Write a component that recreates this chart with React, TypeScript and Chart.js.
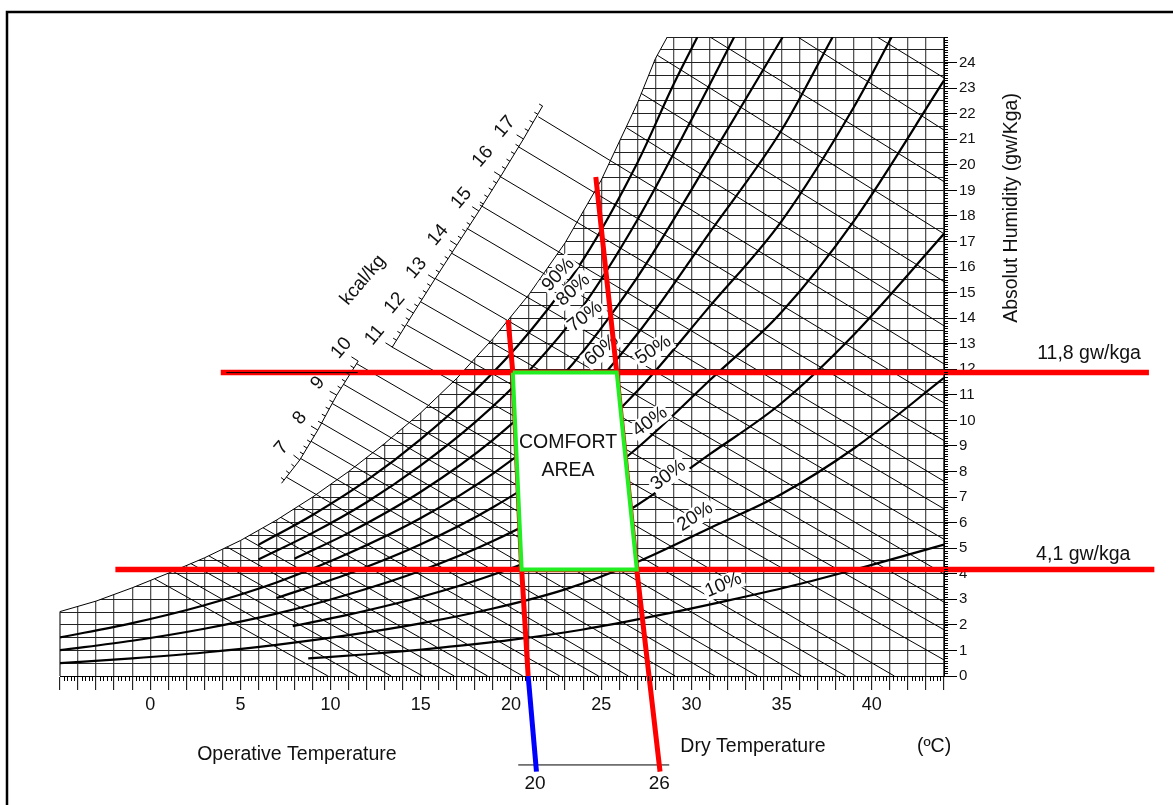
import React, { useEffect, useRef } from 'react';
import { Chart, registerables } from 'chart.js';

Chart.register(...registerables);

const FONT = "'Liberation Sans', Arial, Helvetica, sans-serif";

// ---------------- data ----------------
const xTickLabels = [0, 5, 10, 15, 20, 25, 30, 35, 40];
const yTickLabels = [0, 1, 2, 3, 4, 5, 6, 7, 8, 9, 10, 11, 12, 13, 14, 15, 16, 17, 18, 19, 20, 21, 22, 23, 24];

// saturation curve (100 %)
const satT = [-5, -3, -1, 1, 3, 5, 7, 9, 11, 13, 15, 17, 19, 21, 23, 25, 27, 28, 28.7, 29.5];
const satW = [2.52, 2.93, 3.45, 4.02, 4.62, 5.3, 6.1, 7.0, 8.0, 9.1, 10.3, 11.65, 13.2, 14.93, 16.95, 19.4, 22.4, 24.15, 25.05, 26.4];

// relative humidity curves
const rhLevels = ['10%', '20%', '30%', '40%', '50%', '60%', '70%', '80%', '90%'];
const rhT = [
  [8.76, 12, 16, 20, 24, 28, 32, 36, 40, 44],
  [-5, -1, 3, 7, 11, 15, 19, 23, 27, 31, 35, 39, 44],
  [7.9, 11, 15, 19, 23, 27, 31, 35, 39, 44],
  [-5, -1, 3, 7, 11, 15, 19, 23, 27, 31, 35, 39, 44],
  [7, 11, 15, 19, 23, 27, 31, 35, 39, 41.1],
  [-5, -1, 3, 7, 11, 15, 19, 23, 27, 31, 35, 37.83],
  [8, 11, 15, 19, 23, 27, 31, 35.06],
  [6, 9, 12, 15, 18, 21, 24, 27, 30, 32.37],
  [6, 9, 12, 15, 18, 21, 24, 27, 29, 30.33],
];
const rhW = [
  [0.69, 0.85, 1.1, 1.41, 1.82, 2.35, 2.95, 3.6, 4.35, 5.14],
  [0.5, 0.69, 0.92, 1.22, 1.6, 2.06, 2.64, 3.39, 4.46, 5.78, 7.12, 8.9, 11.66],
  [1.95, 2.4, 3.09, 3.96, 5.09, 6.69, 8.67, 10.68, 13.35, 17.3],
  [1.01, 1.38, 1.85, 2.44, 3.2, 4.12, 5.28, 6.78, 8.92, 11.56, 14.24, 17.8, 23.3],
  [3.05, 4.0, 5.15, 6.6, 8.48, 11.15, 14.45, 17.8, 22.25, 25],
  [1.51, 2.07, 2.77, 3.66, 4.8, 6.18, 7.92, 10.17, 13.38, 17.34, 21.36, 25],
  [4.59, 5.6, 7.21, 9.24, 11.87, 15.6, 20.2, 25],
  [4.56, 5.6, 6.8, 8.24, 9.92, 11.94, 14.48, 17.84, 21.76, 25],
  [5.13, 6.3, 7.65, 9.27, 11.16, 13.44, 16.29, 20.07, 23.13, 25],
];

// thin diagonal (wet bulb / enthalpy) lines: start and end points
const wbStartT = [0.25, 1.25, 2.25, 3.25, 4.25, 5.25, 6.25, 7.25, 8.25,
  7.55, 8.34, 8.92, 9.5, 10.09, 10.72, 11.44,
  13.38, 14.21, 14.99, 15.78, 16.71, 17.54, 18.27, 19.35, 20.4, 21.51,
  26.4, 27.2, 28.1, 31.03, 35.9, 40.3];
const wbStartW = [3.8, 4.1, 4.4, 4.7, 5.05, 5.4, 5.8, 6.2, 6.65,
  7.78, 8.51, 9.18, 9.9, 10.66, 11.41, 12.22,
  12.88, 13.73, 14.64, 15.56, 16.54, 17.52, 18.43, 19.56, 20.71, 21.88,
  21.45, 22.8, 24.29, 25, 25, 25];
const wbEndT = [9.85, 11.5, 13.35, 15.1, 16.85, 18.7, 20.65, 22.7, 24.85,
  26.5, 29.1, 31.3, 33.65, 36.1, 38.55, 41.25,
  44, 44, 44, 44, 44, 44, 44, 44, 44, 44,
  44, 44, 44, 44, 44, 44];
const wbEndW = [0, 0, 0, 0, 0, 0, 0, 0, 0,
  0, 0, 0, 0, 0, 0, 0,
  0.63, 1.81, 2.89, 3.99, 5.35, 6.54, 7.62, 9.21, 10.68, 12.21,
  13.7, 15.43, 17.3, 19.34, 21.36, 23.4];

// enthalpy scale (kcal/kg) - two arc pieces
const lowerArcH = [6.3, 7, 8, 9, 10];
const lowerArcT = [7.28, 8.29, 9.29, 10.34, 11.53];
const lowerArcW = [7.54, 8.45, 9.62, 10.99, 12.32];
const upperArcH = [11, 12, 13, 14, 15, 16, 17, 17.8];
const upperArcT = [13.42, 14.59, 15.78, 17.0, 18.22, 19.44, 20.69, 21.75];
const upperArcW = [12.87, 14.2, 15.53, 16.86, 18.19, 19.56, 21.01, 22.3];
const kcalLabels = ['7', '8', '9', '10', '11', '12', '13', '14', '15', '16', '17'];

// comfort area
const comfortT = [20.1, 25.86, 26.97, 20.59];
const comfortW = [11.87, 11.87, 4.17, 4.17];

// absolute humidity limits
const limitW = [11.87, 4.17];
const limitStartT = [3.91, -1.93];
const limitEndT = [55.36, 55.66];
const limitLabels = ['11,8 gw/kga', '4,1 gw/kga'];

// operative temperature lines
const opLeftT = [19.84, 20.1, 20.59, 20.95];
const opLeftW = [13.93, 11.87, 4.17, 0];
const opBlueT = [20.95, 21.41];
const opBlueW = [0, -3.74];
const opRightT = [24.7, 25.86, 26.97, 28.26];
const opRightW = [19.52, 11.87, 4.17, -3.74];
const opScaleT = [20.4, 28.77];
const opScaleW = [-3.48, -3.48];
const opScaleLabels = ['20', '26'];

// ---------------- layout of texts (positions in chart units) ----------------
const rhLabelPos = [
  { x: 31.77, y: 3.56, a: -23 },
  { x: 30.2, y: 6.23, a: -33 },
  { x: 28.72, y: 7.86, a: -37 },
  { x: 27.7, y: 9.95, a: -36 },
  { x: 27.89, y: 12.75, a: -33 },
  { x: 25.02, y: 12.75, a: -40 },
  { x: 24.1, y: 14.06, a: -38 },
  { x: 23.45, y: 15.1, a: -42 },
  { x: 22.62, y: 15.7, a: -47 },
];
const kcalLabelPos = [
  { x: 7.28, y: 8.92 }, { x: 8.29, y: 10.09 }, { x: 9.29, y: 11.46 }, { x: 10.6, y: 12.83 },
  { x: 12.45, y: 13.34 }, { x: 13.56, y: 14.59 }, { x: 14.76, y: 15.96 }, { x: 15.95, y: 17.25 },
  { x: 17.26, y: 18.7 }, { x: 18.44, y: 20.32 }, { x: 19.66, y: 21.49 },
];

const pts = (T: number[], W: number[]) => T.map((t, i) => ({ x: t, y: W[i] }));

function App() {
  const ref = useRef<HTMLCanvasElement | null>(null);

  useEffect(() => {
    if (!ref.current) return;

    const wbPoints: any[] = [];
    wbStartT.forEach((t, i) => {
      wbPoints.push({ x: t, y: wbStartW[i] }, { x: wbEndT[i], y: wbEndW[i] }, { x: wbEndT[i], y: null });
    });

    const line = (data: any[], extra: any = {}) => ({
      type: 'line',
      data,
      borderColor: '#000',
      borderWidth: 1,
      pointRadius: 0,
      fill: false,
      tension: 0,
      spanGaps: false,
      ...extra,
    });

    const datasets: any[] = [];
    // saturation curve with white fill above it (hides grid there)
    datasets.push(line(pts(satT, satW), { fill: 'end', backgroundColor: '#ffffff', order: 100, borderWidth: 1 }));
    // left edge of the grid (below saturation only)
    datasets.push(line([{ x: satT[0], y: 0 }, { x: satT[0], y: satW[0] }], { order: 95, borderColor: '#333', borderWidth: 1.3, clip: false }));
    // wet bulb lines
    datasets.push(line(wbPoints, { order: 90, borderWidth: 1 }));
    // enthalpy arcs
    datasets.push(line(pts(lowerArcT, lowerArcW), { order: 90, borderWidth: 1 }));
    datasets.push(line(pts(upperArcT, upperArcW), { order: 90, borderWidth: 1 }));
    // RH curves
    const rhFirstIndex = datasets.length;
    rhT.forEach((T, i) => {
      datasets.push(line(pts(T, rhW[i]), { order: 80, borderWidth: 2.2, cubicInterpolationMode: 'monotone' }));
    });
    // red horizontal limits
    limitW.forEach((w, i) => {
      datasets.push(line([{ x: limitStartT[i], y: w }, { x: limitEndT[i], y: w }], { order: 50, borderColor: '#ff0000', borderWidth: 5.5, clip: false }));
    });
    datasets.push(line([{ x: 4.22, y: limitW[0] }, { x: 11.5, y: limitW[0] }], { order: 49, borderColor: '#000', borderWidth: 1, clip: false }));
    // operative temperature lines
    datasets.push(line(pts(opLeftT, opLeftW), { order: 50, borderColor: '#ff0000', borderWidth: 5, clip: false }));
    datasets.push(line(pts(opRightT, opRightW), { order: 50, borderColor: '#ff0000', borderWidth: 5, clip: false }));
    datasets.push(line(pts(opBlueT, opBlueW), { order: 50, borderColor: '#0000ff', borderWidth: 5, clip: false }));
    datasets.push(line(pts(opScaleT, opScaleW), { order: 50, borderColor: '#000', borderWidth: 1, clip: false }));
    // comfort area
    const cPts = pts(comfortT, comfortW);
    cPts.push({ ...cPts[0] });
    datasets.push(line(cPts, { order: 40, borderColor: '#22ee22', borderWidth: 4, fill: 'shape', backgroundColor: '#ffffff', clip: false, borderJoinStyle: 'miter' }));

    const drawText = (ctx: CanvasRenderingContext2D, text: string, x: number, y: number, size: number, angle = 0, bg = false, align: CanvasTextAlign = 'center') => {
      ctx.save();
      ctx.translate(x, y);
      ctx.rotate((angle * Math.PI) / 180);
      ctx.font = `${size}px ${FONT}`;
      ctx.textAlign = align;
      ctx.textBaseline = 'middle';
      if (bg) {
        const w = ctx.measureText(text).width;
        ctx.fillStyle = '#ffffff';
        ctx.fillRect(-w / 2 - 2, -size * 0.5, w + 4, size);
      }
      ctx.fillStyle = '#111';
      ctx.fillText(text, 0, 0);
      ctx.restore();
    };

    const arcTicks = (ctx: CanvasRenderingContext2D, X: (v: number) => number, Y: (v: number) => number,
      H: number[], T: number[], W: number[], h0: number, h1: number) => {
      ctx.beginPath();
      for (let i = Math.round(h0 * 5); i <= Math.round(h1 * 5); i++) {
        const h = i / 5;
        let k = 0;
        while (k < H.length - 2 && h > H[k + 1]) k++;
        const f = (h - H[k]) / (H[k + 1] - H[k]);
        const x0 = X(T[k]), y0 = Y(W[k]), x1 = X(T[k + 1]), y1 = Y(W[k + 1]);
        const x = x0 + f * (x1 - x0), y = y0 + f * (y1 - y0);
        const len = Math.hypot(x1 - x0, y1 - y0);
        const tx = (x1 - x0) / len, ty = (y1 - y0) / len;
        const nx = ty, ny = -tx;
        const L = i % 5 === 0 ? 8 : 4;
        ctx.moveTo(x, y);
        ctx.lineTo(x + nx * L, y + ny * L);
      }
      ctx.strokeStyle = '#000';
      ctx.lineWidth = 1;
      ctx.stroke();
    };

    const decor = {
      id: 'decor',
      beforeDraw(chart: any) {
        const ctx = chart.ctx as CanvasRenderingContext2D;
        ctx.save();
        ctx.strokeStyle = '#000';
        ctx.lineWidth = 2.5;
        ctx.beginPath();
        ctx.moveTo(7, 900);
        ctx.lineTo(7, 12);
        ctx.lineTo(1300, 12);
        ctx.stroke();
        ctx.restore();
      },
      afterDatasetDraw(chart: any, args: any) {
        if (args.index !== rhFirstIndex) return;
        const ctx = chart.ctx as CanvasRenderingContext2D;
        const X = (v: number) => chart.scales.x.getPixelForValue(v);
        const Y = (v: number) => chart.scales.y.getPixelForValue(v);
        rhLevels.forEach((t, i) => {
          const p = rhLabelPos[i];
          drawText(ctx, t, X(p.x), Y(p.y), 19, p.a, true);
        });
      },
      afterDatasetsDraw(chart: any) {
        const ctx = chart.ctx as CanvasRenderingContext2D;
        const xs = chart.scales.x, ys = chart.scales.y;
        const X = (v: number) => xs.getPixelForValue(v);
        const Y = (v: number) => ys.getPixelForValue(v);
        const area = chart.chartArea;
        ctx.save();
        // minor ticks, bottom axis (0.2 degC)
        ctx.beginPath();
        for (let i = -25; i <= 220; i++) {
          if (i % 5 === 0) continue;
          const x = Math.round(X(i / 5)) + 0.5;
          ctx.moveTo(x, area.bottom);
          ctx.lineTo(x, area.bottom + 5);
        }
        // minor ticks, right axis (0.1 g/kg)
        for (let i = 0; i <= 250; i++) {
          const y = Math.round(Y(i / 10)) + 0.5;
          ctx.moveTo(area.right, y);
          ctx.lineTo(area.right + 4, y);
        }
        ctx.strokeStyle = '#000';
        ctx.lineWidth = 1;
        ctx.stroke();

        // enthalpy scale ticks and labels
        arcTicks(ctx, X, Y, lowerArcH, lowerArcT, lowerArcW, 6.4, 10);
        arcTicks(ctx, X, Y, upperArcH, upperArcT, upperArcW, 11, 17.8);
        kcalLabels.forEach((t, i) => {
          const p = kcalLabelPos[i];
          drawText(ctx, t, X(p.x), Y(p.y), 19, -50);
        });
        drawText(ctx, 'kcal/kg', X(11.8), Y(15.49), 19, -50);

        // comfort text
        drawText(ctx, 'COMFORT', X(23.16), Y(9.13), 19.5);
        drawText(ctx, 'AREA', X(23.16), Y(8.02), 19.5);

        // limit labels
        drawText(ctx, limitLabels[0], X(52.04), Y(12.63), 19.5);
        drawText(ctx, limitLabels[1], X(51.72), Y(4.73), 19.5);

        // titles
        drawText(ctx, 'Operative Temperature', X(8.13), Y(-3.09), 19.5);
        drawText(ctx, 'Dry Temperature', X(33.41), Y(-2.77), 19.5);
        drawText(ctx, '(ºC)', X(43.45), Y(-2.77), 19.5);
        drawText(ctx, 'Absolut Humidity (gw/Kga)', X(47.73), Y(18.31), 19.5, -90);
        drawText(ctx, opScaleLabels[0], X(21.33), Y(-4.2), 19);
        drawText(ctx, opScaleLabels[1], X(28.22), Y(-4.2), 19);
        ctx.restore();
      },
    };

    const chart = new Chart(ref.current, {
      type: 'scatter',
      data: { datasets },
      options: {
        animation: false,
        responsive: false,
        maintainAspectRatio: false,
        events: [],
        layout: { padding: { left: 60, top: 37, right: 169, bottom: 79 } },
        plugins: { legend: { display: false }, tooltip: { enabled: false }, title: { display: false } },
        scales: {
          x: {
            type: 'linear',
            position: 'bottom',
            min: -5,
            max: 44,
            afterFit: (s: any) => { s.height = 50; },
            ticks: {
              stepSize: 1,
              maxTicksLimit: 1000,
              autoSkip: false,
              maxRotation: 0,
              minRotation: 0,
              padding: 4,
              color: '#111',
              font: { size: 18, family: FONT },
              callback: (v: any) => (xTickLabels.includes(Number(v)) ? String(v) : ''),
            },
            grid: {
              color: (c: any) => (c.tick && c.tick.value === -5 ? 'rgba(0,0,0,0)' : '#555'),
              lineWidth: 1.3,
              tickLength: 14,
              tickColor: '#000',
              tickWidth: 1,
            },
            border: { display: true, color: '#000', width: 1 },
          },
          y: {
            type: 'linear',
            position: 'right',
            min: 0,
            max: 25,
            afterFit: (s: any) => { s.width = 60; },
            ticks: {
              stepSize: 0.5,
              maxTicksLimit: 1000,
              autoSkip: false,
              padding: 2,
              color: '#111',
              font: { size: 15, family: FONT },
              callback: (v: any) => (yTickLabels.includes(Number(v)) ? String(v) : ''),
            },
            grid: {
              color: '#222',
              lineWidth: 1,
              tickLength: 13,
              tickColor: (c: any) => (c.tick && Number.isInteger(c.tick.value) && c.tick.value < 25 ? '#000' : 'rgba(0,0,0,0)'),
            },
            border: { display: true, color: '#000', width: 1 },
          },
        },
      },
      plugins: [decor],
    } as any);

    return () => chart.destroy();
  }, []);

  return (
    <div style={{ position: 'absolute', left: 0, top: 0, width: 1173, height: 805, background: '#fff' }}>
      <canvas ref={ref} width={1173} height={805} style={{ width: 1173, height: 805, display: 'block' }} />
    </div>
  );
}

export default App;
